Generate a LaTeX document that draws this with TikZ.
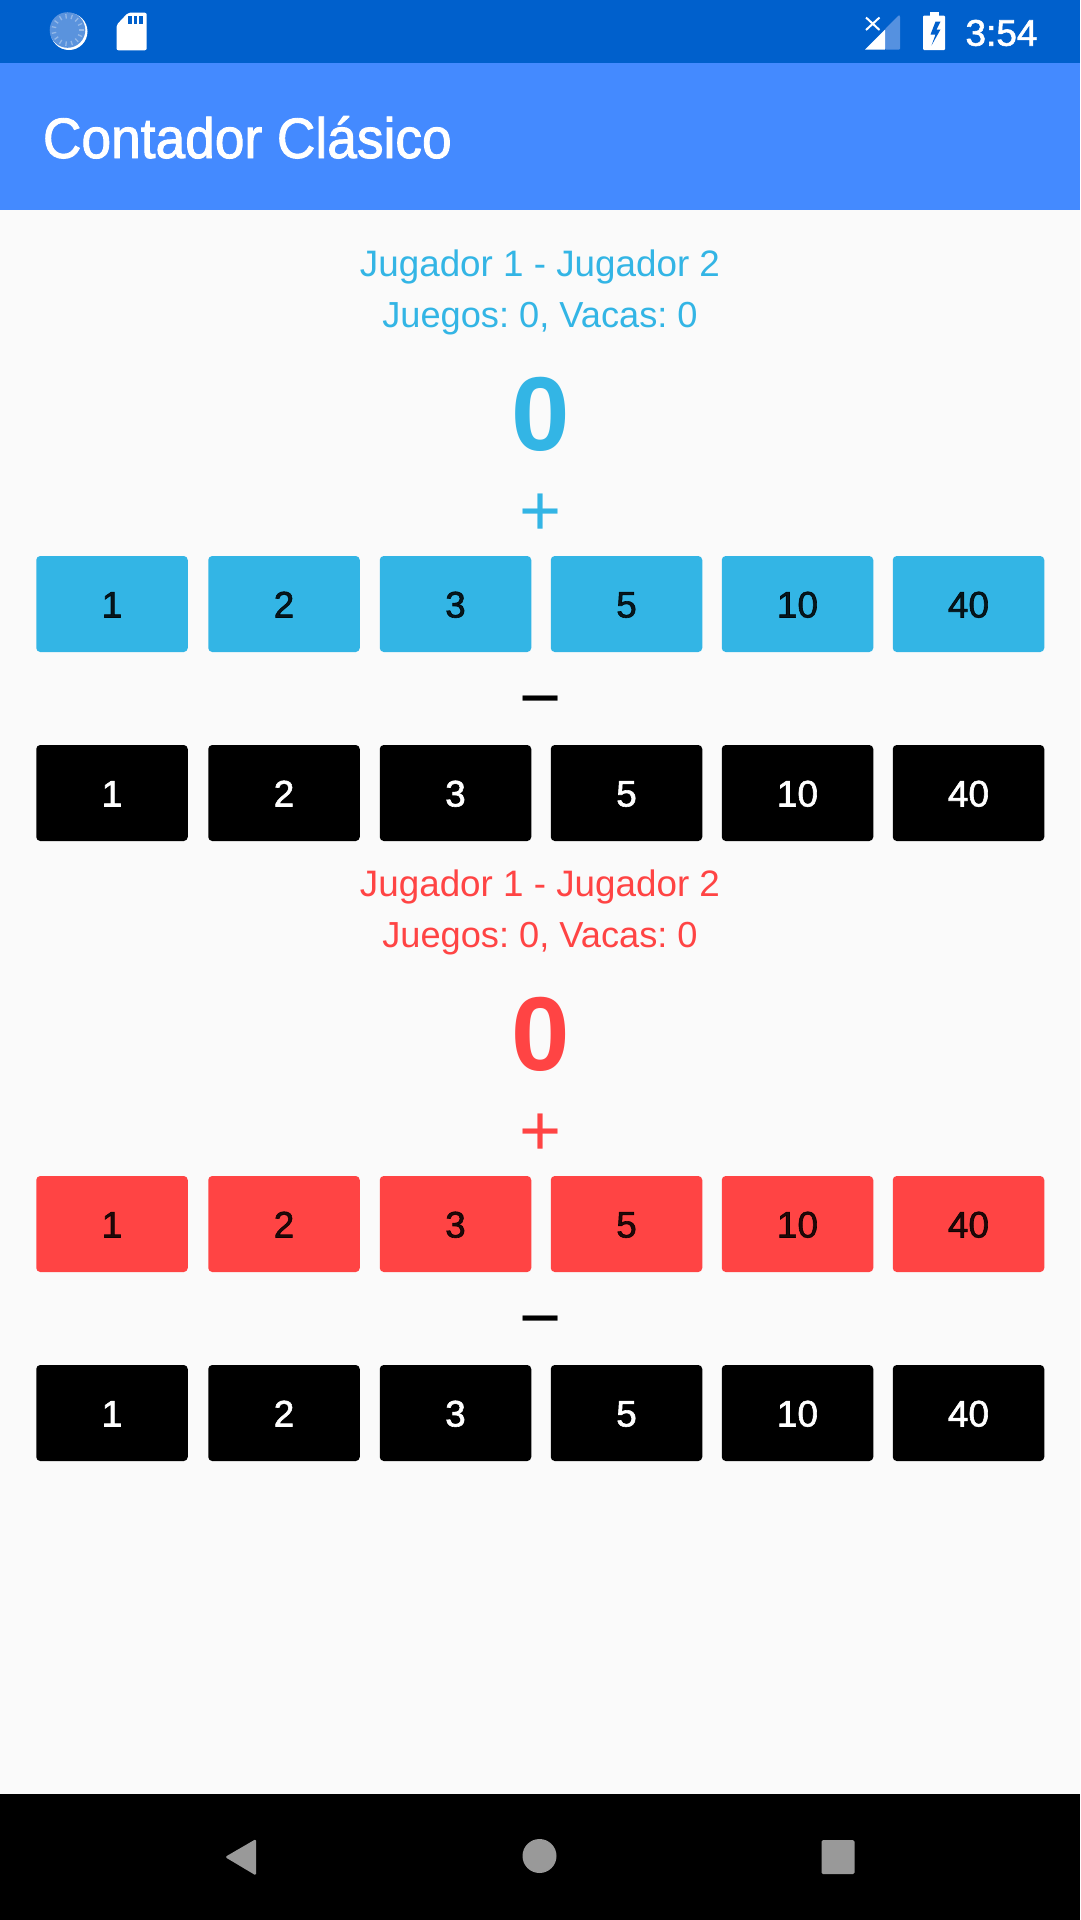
\documentclass[tikz,border=0pt]{standalone}
\usepackage{fontspec}
\setmainfont{Liberation Sans}
\newfontfamily\medfont[FakeBold=1.6]{Liberation Sans}
\newfontfamily\titlefont[FakeBold=1.6,FakeStretch=0.935]{Liberation Sans}
\newfontfamily\boldfont{Liberation Sans Bold}
\definecolor{statusblue}{HTML}{0060CC}
\definecolor{appblue}{HTML}{448AFF}
\definecolor{pagebg}{HTML}{FAFAFA}
\definecolor{holoblue}{HTML}{33B5E5}
\definecolor{holored}{HTML}{FF4444}
\definecolor{navgrey}{HTML}{999999}
\definecolor{spinfill}{HTML}{5A93DD}
\definecolor{signaldim}{HTML}{5591E0}
\tikzset{
  plain/.style={inner sep=0pt,outer sep=0pt},
  titletext/.style={plain,anchor=base west,text=white,font=\titlefont\fontsize{57}{60}\selectfont},
  clocktext/.style={plain,anchor=base east,text=white,font=\medfont\fontsize{37}{40}\selectfont},
  labeltext/.style={plain,anchor=base,font=\frenchspacing\fontsize{36.8}{40}\selectfont},
  statstext/.style={plain,anchor=base,font=\frenchspacing\fontsize{36.2}{40}\selectfont},
  bigzero/.style={plain,anchor=base,font=\boldfont\fontsize{105}{110}\selectfont},
  signtext/.style={plain,anchor=center,font=\fontsize{72}{76}\selectfont},
  btn/.style={plain,rectangle,rounded corners=4pt,minimum width=151.5pt,minimum height=96pt,
    text height=27pt,text depth=0pt,font=\medfont\fontsize{37}{40}\selectfont},
  softkey/.style={fill=navgrey},
}
\begin{document}
\begin{tikzpicture}[x=1pt,y=-1pt]
\useasboundingbox (0,0) rectangle (1080,1920);
% bars and page
\fill[pagebg] (0,0) rectangle (1080,1920);
\fill[statusblue] (0,0) rectangle (1080,63);
\fill[appblue] (0,63) rectangle (1080,210);
\fill[black] (0,1794) rectangle (1080,1920);
% spinner icon
\fill[white] (69,31.5) circle (18.5);
\fill[spinfill] (67.5,30) circle (17.8);
\foreach \a in {0,24,...,336}
  \draw[white,opacity=.35,line width=1.3pt] ({67.5+11.5*cos(\a)},{30+11.5*sin(\a)}) -- ({67.5+16*cos(\a)},{30+16*sin(\a)});
% sd card icon
\fill[white,rounded corners=2pt] (116.5,25) -- (128,12.7) -- (146.7,12.7) -- (146.7,50.3) -- (116.5,50.3) -- cycle;
\foreach \x in {127.8,133.6,139.2}
  \fill[statusblue] (\x,16) rectangle ++(3.8,8);
% signal icon
\fill[signaldim,rounded corners=1pt] (885,49.5) -- (885,29) -- (899,15) -- (900,16) -- (900,49.5) -- cycle;
\fill[white] (865,49.5) -- (885,29.5) -- (885,49.5) -- cycle;
\draw[white,line width=2pt] (866,17.5) -- (879.5,30);
\draw[white,line width=2pt] (879.5,17.5) -- (866,30);
% battery icon
\fill[white,rounded corners=1pt] (923,15.7) rectangle (945,50);
\fill[white] (929.5,12) rectangle (939,16);
\fill[statusblue] (935.5,21.7) -- (930.5,34.5) -- (935.5,34.5) -- (931.5,45.5) -- (940.5,29.5) -- (936.5,29.5) -- (940.5,21.7) -- cycle;
% header text
\node[titletext] (title) at (43,158) {Contador Clásico};
\node[clocktext] (clock) at (1037.5,45.7) {3:54};
% two counter blocks
\foreach \o/\col/\n in {0/holoblue/a,620/holored/b}{
  \node[labeltext,text=\col] (\n names) at (540,{276.5+\o}) {Jugador 1 - Jugador 2};
  \node[statstext,text=\col] (\n stats) at (540,{327.5+\o}) {Juegos: 0, Vacas: 0};
  \node[bigzero,text=\col] (\n score) at (540.5,{450+\o}) {0};
  \node[signtext,text=\col] (\n plus) at (540.5,{514.5+\o}) {+};
  \node[signtext,text=black] (\n minus) at (540.5,{709+\o}) {−};
  \foreach \i/\cx/\t in {1/112/1,2/284/2,3/455.5/3,4/626.5/5,5/797.5/10,6/968.5/40}{
    \node[btn,fill=\col,text=black,text opacity=.87] (\n up\i) at (\cx,{604+\o}) {\t};
    \node[btn,fill=black,text=white] (\n down\i) at (\cx,{793+\o}) {\t};
  }
}
% navigation keys
\fill[softkey,rounded corners=1.5pt] (225,1857) -- (256,1839) -- (256,1875.5) -- cycle;
\fill[softkey] (539.5,1856) circle (17);
\fill[softkey,rounded corners=1.5pt] (821.5,1840) rectangle (854.5,1874);
\end{tikzpicture}
\end{document}
